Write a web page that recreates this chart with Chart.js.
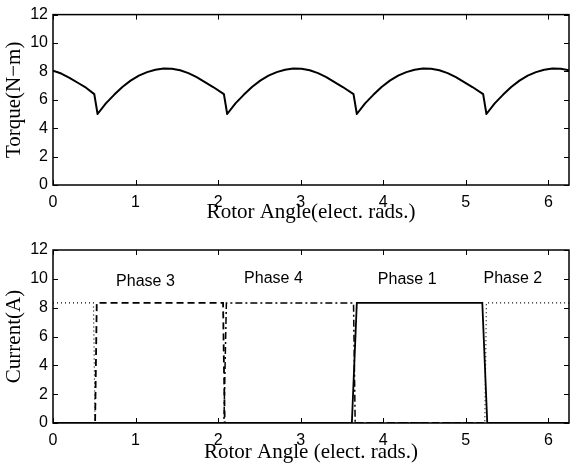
<!DOCTYPE html>
<html lang="en">
<head>
<meta charset="UTF-8">
<title>Torque and phase current</title>
<script src="https://cdn.jsdelivr.net/npm/chart.js@4.4.0/dist/chart.umd.min.js"></script>
<style>
  body { margin: 0; background: #fff; }
  canvas { display: block; }
</style>
</head>
<body>
<canvas id="torque" width="570" height="230"></canvas>
<canvas id="current" width="570" height="238"></canvas>
<script>
// ---------------- data ----------------
var xTicks = [0, 1, 2, 3, 4, 5, 6];
var yTicks = [0, 2, 4, 6, 8, 10, 12];

// torque vs rotor angle
var torqueX = [0, 0.1, 0.2, 0.3, 0.4, 0.5, 0.54,
    0.64, 0.74, 0.84, 0.94, 1.04, 1.14, 1.24, 1.34, 1.44, 1.54, 1.64, 1.74, 1.84, 1.94, 2.07, 2.11,
    2.21, 2.31, 2.41, 2.51, 2.61, 2.71, 2.81, 2.91, 3.01, 3.11, 3.21, 3.31, 3.41, 3.51, 3.64, 3.68,
    3.78, 3.88, 3.98, 4.08, 4.18, 4.28, 4.38, 4.48, 4.58, 4.68, 4.78, 4.88, 4.98, 5.08, 5.21, 5.25,
    5.35, 5.45, 5.55, 5.65, 5.75, 5.85, 5.95, 6.05, 6.15, 6.25];
var torqueY = [8.05, 7.85, 7.55, 7.2, 6.85, 6.4, 5.0,
    5.75, 6.35, 6.9, 7.35, 7.7, 7.95, 8.12, 8.2, 8.18, 8.08, 7.88, 7.6, 7.25, 6.9, 6.4, 5.0,
    5.75, 6.35, 6.9, 7.35, 7.7, 7.95, 8.12, 8.2, 8.18, 8.08, 7.88, 7.6, 7.25, 6.9, 6.4, 5.0,
    5.75, 6.35, 6.9, 7.35, 7.7, 7.95, 8.12, 8.2, 8.18, 8.08, 7.88, 7.6, 7.25, 6.9, 6.4, 5.0,
    5.75, 6.35, 6.9, 7.35, 7.7, 7.95, 8.12, 8.2, 8.18, 8.08];

// phase currents
var phase1X = [0, 3.62, 3.68, 5.2, 5.26, 6.25];
var phase1Y = [0, 0, 8.33, 8.33, 0, 0];
var phase2X = [0, 0.49, 0.51, 5.23, 5.25, 6.25];
var phase2Y = [8.33, 8.33, 0, 0, 8.33, 8.33];
var phase3X = [0, 0.51, 0.53, 2.06, 2.08, 6.25];
var phase3Y = [0, 0, 8.33, 8.33, 0, 0];
var phase4X = [0, 2.07, 2.1, 3.64, 3.66, 6.25];
var phase4Y = [0, 0, 8.33, 8.33, 0, 0];

var phaseNames = ['Phase 3', 'Phase 4', 'Phase 1', 'Phase 2'];
var phaseLabelX = [1.12, 2.67, 4.29, 5.57];
var phaseLabelY = [9.8, 10.05, 9.93, 10.05];

// ---------------- helpers ----------------
function pts(xs, ys) {
    return xs.map(function (x, i) { return { x: x, y: ys[i] }; });
}

// box round the plot area with inward ticks on every side
var boxTicks = {
    id: 'boxTicks',
    afterDraw: function (chart) {
        var ctx = chart.ctx, a = chart.chartArea;
        var xs = chart.scales.x, ys = chart.scales.y;
        var len = 5;
        ctx.save();
        ctx.strokeStyle = '#000';
        ctx.lineWidth = 1;
        ctx.beginPath();
        xTicks.forEach(function (v) {
            var px = Math.round(xs.getPixelForValue(v)) + 0.5;
            ctx.moveTo(px, a.bottom); ctx.lineTo(px, a.bottom - len);
            ctx.moveTo(px, a.top); ctx.lineTo(px, a.top + len);
        });
        yTicks.forEach(function (v) {
            var py = Math.round(ys.getPixelForValue(v)) + 0.5;
            ctx.moveTo(a.left, py); ctx.lineTo(a.left + len, py);
            ctx.moveTo(a.right, py); ctx.lineTo(a.right - len, py);
        });
        ctx.stroke();
        ctx.lineWidth = 1.5;
        ctx.strokeRect(a.left, a.top, a.right - a.left, a.bottom - a.top);
        ctx.restore();
    }
};

var phaseText = {
    id: 'phaseText',
    afterDraw: function (chart) {
        if (chart.canvas.id !== 'current') return;
        var ctx = chart.ctx;
        ctx.save();
        ctx.fillStyle = '#000';
        ctx.font = '16px "Liberation Sans", Arial, sans-serif';
        ctx.textAlign = 'center';
        ctx.textBaseline = 'middle';
        phaseNames.forEach(function (name, i) {
            ctx.fillText(name,
                chart.scales.x.getPixelForValue(phaseLabelX[i]),
                chart.scales.y.getPixelForValue(phaseLabelY[i]));
        });
        ctx.restore();
    }
};

function scaleOpts(yTitle, xTitle, xTitlePad) {
    return {
        x: {
            type: 'linear', min: 0, max: 6.25,
            grid: { display: false, drawTicks: false },
            border: { display: false },
            afterBuildTicks: function (s) { s.ticks = xTicks.map(function (v) { return { value: v }; }); },
            afterFit: function (s) { s.height = 45; },
            ticks: {
                color: '#000', padding: 8, maxRotation: 0,
                font: { family: '"Liberation Sans", Arial, sans-serif', size: 16 }
            },
            title: {
                display: true, text: xTitle, color: '#000',
                padding: { top: 0, bottom: xTitlePad },
                font: { family: '"Liberation Serif", "Times New Roman", serif', size: 21 }
            }
        },
        y: {
            min: 0, max: 12,
            grid: { display: false, drawTicks: false },
            border: { display: false },
            afterBuildTicks: function (s) { s.ticks = yTicks.map(function (v) { return { value: v }; }); },
            afterFit: function (s) { s.width = 53; },
            ticks: {
                color: '#000', padding: 5,
                font: { family: '"Liberation Sans", Arial, sans-serif', size: 16 }
            },
            title: {
                display: true, text: yTitle, color: '#000',
                padding: { top: 2, bottom: 0 },
                font: { family: '"Liberation Serif", "Times New Roman", serif', size: 21 }
            }
        }
    };
}

var common = {
    responsive: false,
    animation: false,
    events: [],
    plugins: { legend: { display: false }, tooltip: { enabled: false } },
    elements: { point: { radius: 0 }, line: { tension: 0 } }
};

// ---------------- torque ----------------
new Chart(document.getElementById('torque'), {
    type: 'scatter',
    data: {
        datasets: [{
            data: pts(torqueX, torqueY),
            showLine: true, borderColor: '#000', borderWidth: 2,
            borderJoinStyle: 'round'
        }]
    },
    options: Object.assign({}, common, {
        layout: { padding: { top: 13, right: 1, left: 0, bottom: 0 } },
        scales: scaleOpts('Torque(N\u2212m)', 'Rotor Angle(elect. rads.)', 5)
    }),
    plugins: [boxTicks]
});

// ---------------- phase currents ----------------
function phaseSet(xs, ys, dash, width) {
    return {
        data: pts(xs, ys), showLine: true, borderColor: '#000',
        borderWidth: width, borderDash: dash
    };
}

new Chart(document.getElementById('current'), {
    type: 'scatter',
    data: {
        datasets: [
            phaseSet(phase2X, phase2Y, [1, 3], 1.2),
            phaseSet(phase3X, phase3Y, [7, 4], 1.8),
            phaseSet(phase4X, phase4Y, [7, 3, 2, 3], 1.5),
            phaseSet(phase1X, phase1Y, [], 1.8)
        ]
    },
    options: Object.assign({}, common, {
        layout: { padding: { top: 20, right: 1, left: 0, bottom: 0 } },
        scales: scaleOpts('Current(A)', 'Rotor Angle (elect. rads.)', 3)
    }),
    plugins: [boxTicks, phaseText]
});
</script>
</body>
</html>
